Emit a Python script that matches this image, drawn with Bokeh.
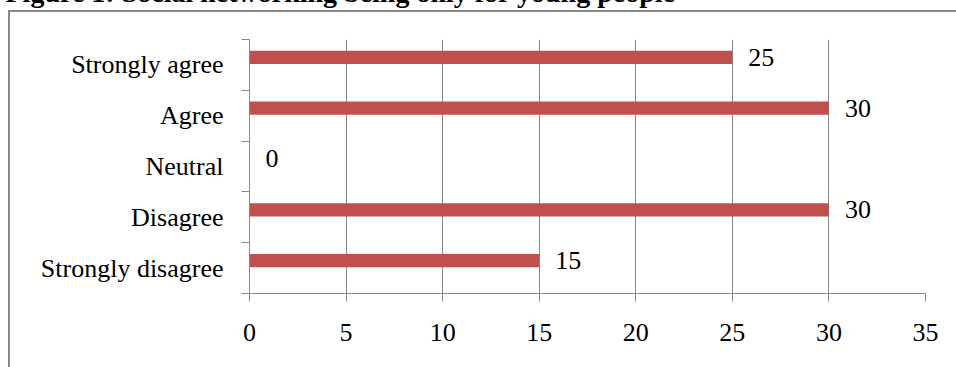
from bokeh.plotting import figure
from bokeh.models import ColumnDataSource, FixedTicker, LabelSet, Label, Range1d, InlineStyleSheet
from bokeh.embed import file_html
from bokeh.resources import INLINE

# ---- data ----
categories = ["Strongly disagree", "Disagree", "Neutral", "Agree", "Strongly agree"]
values = [15, 30, 0, 30, 25]
x_ticks = [0, 5, 10, 15, 20, 25, 30, 35]
title_text = "Figure 1: Social networking being only for young people"

# ---- style ----
W, H = 956, 367
FONT = "Liberation Serif"
FS = "26px"
GRAY = "#888888"
BAR = "#C0504D"
BAR_SHIFT = 0.148
BAR_H = 0.26

p = figure(width=W, height=H, output_backend="svg", toolbar_location=None,
           x_range=Range1d(0, 35), y_range=Range1d(0, len(categories)),
           min_border_left=249, min_border_right=31, min_border_top=39,
           min_border_bottom=74)
p.outline_line_color = None
p.background_fill_color = "white"
p.border_fill_color = "white"

# outer document frame: left and top edges (drawn with CSS over the plot host)
p.stylesheets = [InlineStyleSheet(css="""
:host { position: relative; }
:host::after {
  content: "";
  position: absolute;
  left: 8px; top: 10px; right: 0px; bottom: 0px;
  border-left: 2px solid #888888;
  border-top: 2px solid #888888;
  pointer-events: none;
  z-index: 5;
}
""")]

# x axis
p.xaxis.ticker = FixedTicker(ticks=x_ticks)
p.xaxis.axis_line_color = GRAY
p.xaxis.major_tick_line_color = GRAY
p.xaxis.major_tick_out = 8
p.xaxis.major_tick_in = 0
p.xaxis.minor_tick_line_color = None
p.xaxis.major_label_text_font = FONT
p.xaxis.major_label_text_font_size = FS
p.xaxis.major_label_text_color = "black"
p.xaxis.major_label_standoff = 22

# y axis: labels at band centres, ticks at band boundaries
centres = [i + 0.5 for i in range(len(categories))]
p.yaxis.ticker = FixedTicker(ticks=centres, minor_ticks=list(range(len(categories) + 1)))
p.yaxis.major_label_overrides = {c: name for c, name in zip(centres, categories)}
p.yaxis.axis_line_color = GRAY
p.yaxis.major_tick_line_color = None
p.yaxis.major_tick_out = 0
p.yaxis.major_tick_in = 0
p.yaxis.minor_tick_line_color = GRAY
p.yaxis.minor_tick_out = 8
p.yaxis.minor_tick_in = 0
p.yaxis.major_label_text_font = FONT
p.yaxis.major_label_text_font_size = FS
p.yaxis.major_label_text_color = "black"
p.yaxis.major_label_standoff = 18

p.xgrid.ticker = FixedTicker(ticks=x_ticks)
p.xgrid.grid_line_color = GRAY
p.ygrid.grid_line_color = None

src = ColumnDataSource(dict(
    y=[c + BAR_SHIFT for c in centres],
    v=values,
    lbl=[str(v) for v in values],
))
p.hbar(y="y", left=0, right="v", height=BAR_H, source=src,
       fill_color=BAR, line_color=None)

p.add_layout(LabelSet(x="v", y="y", text="lbl", source=src, x_offset=16,
                      text_baseline="middle", text_align="left",
                      text_font=FONT, text_font_size=FS, text_color="black"))

# title, mostly cut off by the top edge (as in the reference)
p.add_layout(Label(x=5, y=-8, x_units="canvas", y_units="canvas",
                   text=title_text, text_font=FONT, text_font_size="28px",
                   text_font_style="bold", text_color="black",
                   text_baseline="alphabetic", text_align="left"), "above")

open("out.html", "w").write(file_html(p, INLINE))
